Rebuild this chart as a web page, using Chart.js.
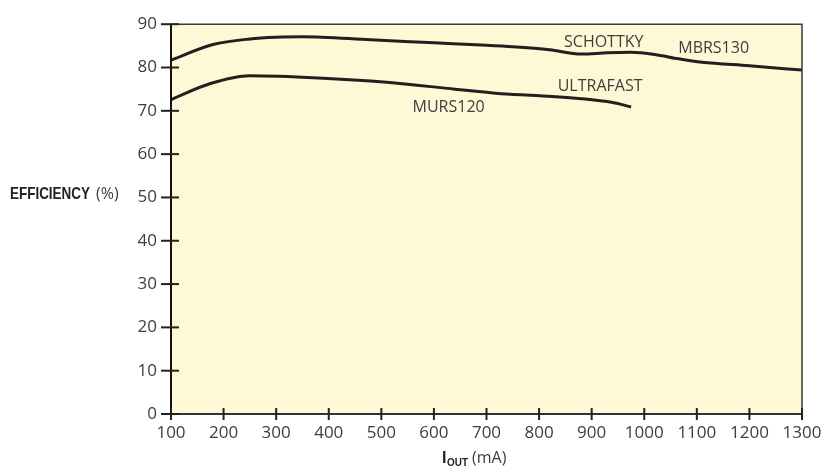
<!DOCTYPE html>
<html>
<head>
<meta charset="utf-8">
<script src="https://cdn.jsdelivr.net/npm/chart.js@4.4.1/dist/chart.umd.min.js"></script>
<style>
  body { margin: 0; background: #fff; }
  #wrap { width: 832px; height: 466px; }
</style>
</head>
<body>
<div id="wrap"><canvas id="chart" width="832" height="466"></canvas></div>
<script>
// Output current (mA) and efficiency (%)
const schottkyX = [100, 180, 250, 300, 350, 480, 600, 690, 750, 820, 880, 930, 975, 1020, 1065, 1110, 1200, 1300];
const schottkyY = [81.7, 85.3, 86.6, 87.0, 87.1, 86.4, 85.7, 85.2, 84.8, 84.1, 83.1, 83.4, 83.5, 83.0, 82.0, 81.2, 80.4, 79.4];

const ultrafastX = [100, 175, 250, 380, 510, 640, 690, 745, 800, 880, 940, 975];
const ultrafastY = [72.6, 76.3, 78.1, 77.6, 76.6, 75.0, 74.4, 73.8, 73.5, 72.8, 71.9, 70.9];

const xTicks = [100, 200, 300, 400, 500, 600, 700, 800, 900, 1000, 1100, 1200, 1300];
const yTicks = [0, 10, 20, 30, 40, 50, 60, 70, 80, 90];

// curve captions, anchored in data units
const captions = [
  { text: "SCHOTTKY", x: 923, y: 85.9 },
  { text: "MBRS130", x: 1132, y: 84.4 },
  { text: "ULTRAFAST", x: 916, y: 75.7 },
  { text: "MURS120", x: 628, y: 70.7 },
];

const ink = "#231f20";
const textColor = "#3d3d3d";
const face = "'Open Sans', 'Noto Sans', Arial, sans-serif";

function toPoints(xs, ys) {
  return xs.map((x, i) => ({ x: x, y: ys[i] }));
}

// draw text squeezed to a given width (condensed look)
function narrowText(ctx, text, x, y, width) {
  const w = ctx.measureText(text).width;
  ctx.save();
  ctx.translate(x, y);
  ctx.scale(width / w, 1);
  ctx.fillText(text, 0, 0);
  ctx.restore();
}

// plot background, frame, crossing tick marks and custom titles
const framePlugin = {
  id: "frame",
  beforeDatasetsDraw(chart) {
    const { ctx, chartArea: a } = chart;
    ctx.save();
    ctx.fillStyle = "#fef8d6";
    ctx.fillRect(a.left, a.top, a.right - a.left, a.bottom - a.top);
    ctx.restore();
  },
  afterDatasetsDraw(chart) {
    const { ctx, chartArea: a, scales } = chart;
    ctx.save();
    // top + right border
    ctx.strokeStyle = "#3a3a3a";
    ctx.lineWidth = 1.5;
    ctx.beginPath();
    ctx.moveTo(a.left, a.top);
    ctx.lineTo(a.right, a.top);
    ctx.lineTo(a.right, a.bottom);
    ctx.stroke();
    // bottom axis
    ctx.strokeStyle = "#333";
    ctx.lineWidth = 2;
    ctx.beginPath();
    ctx.moveTo(a.left - 10, a.bottom);
    ctx.lineTo(a.right, a.bottom);
    ctx.stroke();
    // left axis
    ctx.strokeStyle = "#111";
    ctx.lineWidth = 2;
    ctx.beginPath();
    ctx.moveTo(a.left, a.top);
    ctx.lineTo(a.left, a.bottom);
    ctx.stroke();
    // y ticks cross the axis
    ctx.strokeStyle = "#222";
    ctx.lineWidth = 2;
    yTicks.forEach((v) => {
      const py = scales.y.getPixelForValue(v);
      ctx.beginPath();
      ctx.moveTo(a.left - 10, py);
      ctx.lineTo(a.left + 8, py);
      ctx.stroke();
    });
    xTicks.forEach((v) => {
      const px = scales.x.getPixelForValue(v);
      ctx.beginPath();
      ctx.moveTo(px, a.bottom - 6);
      ctx.lineTo(px, a.bottom + 6);
      ctx.stroke();
    });

    // captions on the curves
    ctx.fillStyle = textColor;
    ctx.font = "16px " + face;
    ctx.textAlign = "center";
    ctx.textBaseline = "middle";
    captions.forEach((c) => {
      ctx.fillText(c.text, scales.x.getPixelForValue(c.x), scales.y.getPixelForValue(c.y));
    });

    // y title: EFFICIENCY (%)
    ctx.textAlign = "left";
    ctx.textBaseline = "alphabetic";
    ctx.fillStyle = "#222";
    ctx.font = "bold 17px 'Liberation Sans', Arial, sans-serif";
    narrowText(ctx, "EFFICIENCY", 10, 199, 80);
    ctx.fillStyle = textColor;
    ctx.font = "16px " + face;
    ctx.fillText("(%)", 96, 199);

    // x title: I_OUT (mA)
    ctx.fillStyle = "#222";
    ctx.font = "bold 16px 'Liberation Sans', Arial, sans-serif";
    ctx.fillText("I", 442, 463);
    ctx.font = "bold 11px 'Liberation Sans', Arial, sans-serif";
    narrowText(ctx, "OUT", 447, 466, 21);
    ctx.fillStyle = textColor;
    ctx.font = "16px " + face;
    ctx.fillText("(mA)", 472, 463);
    ctx.restore();
  },
};

const ctx = document.getElementById("chart");
new Chart(ctx, {
  type: "line",
  data: {
    datasets: [
      {
        label: "Schottky MBRS130",
        data: toPoints(schottkyX, schottkyY),
        borderColor: ink,
        borderWidth: 3,
        pointRadius: 0,
        tension: 0.4,
        cubicInterpolationMode: "monotone",
      },
      {
        label: "Ultrafast MURS120",
        data: toPoints(ultrafastX, ultrafastY),
        borderColor: ink,
        borderWidth: 3,
        pointRadius: 0,
        tension: 0.4,
        cubicInterpolationMode: "monotone",
      },
    ],
  },
  options: {
    responsive: false,
    animation: false,
    layout: {
      padding: { top: 17, right: 30, left: 0, bottom: 0 },
    },
    plugins: {
      legend: { display: false },
      tooltip: { enabled: false },
    },
    scales: {
      x: {
        type: "linear",
        min: 100,
        max: 1300,
        afterBuildTicks: (scale) => {
          scale.ticks = xTicks.map((v) => ({ value: v }));
        },
        afterFit: (scale) => {
          scale.height = 52;
        },
        grid: { display: false, drawTicks: false },
        border: { display: false },
        ticks: {
          padding: 9,
          color: textColor,
          maxRotation: 0,
          autoSkip: false,
          callback: (v) => String(v),
          font: { size: 17, family: face },
        },
      },
      y: {
        min: 0,
        max: 90,
        afterBuildTicks: (scale) => {
          scale.ticks = yTicks.map((v) => ({ value: v }));
        },
        afterFit: (scale) => {
          scale.width = 171;
        },
        grid: { display: false, drawTicks: false },
        border: { display: false },
        ticks: {
          padding: 14,
          color: textColor,
          callback: (v) => String(v),
          font: { size: 17, family: face },
        },
      },
    },
  },
  plugins: [framePlugin],
});
</script>
</body>
</html>
